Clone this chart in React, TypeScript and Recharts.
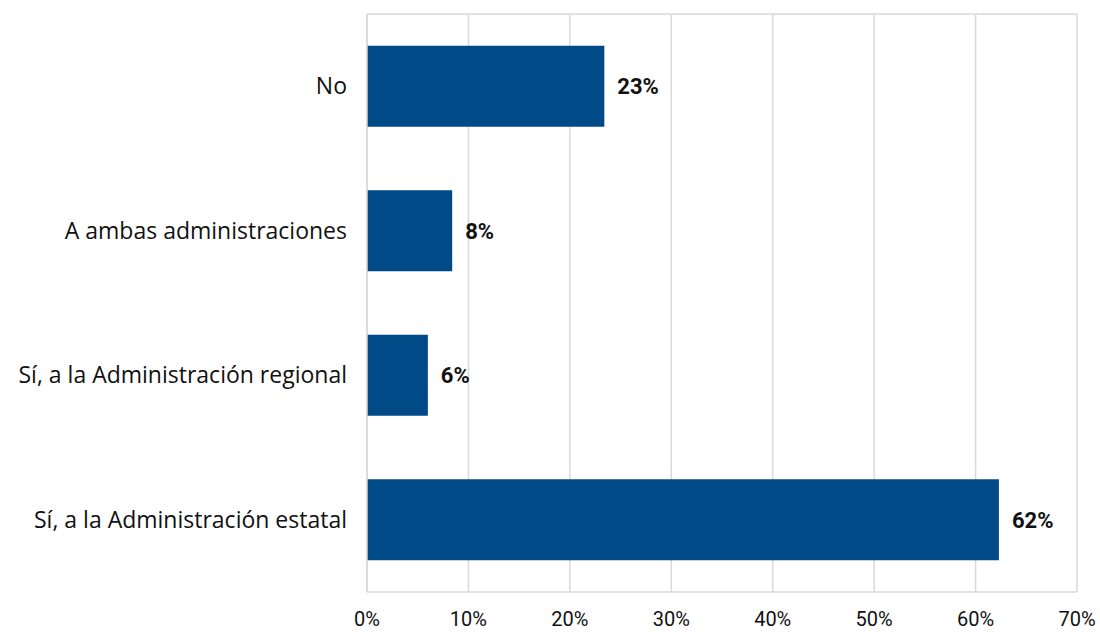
import { BarChart, Bar, XAxis, YAxis, CartesianGrid, LabelList } from 'recharts';

const categories = [
    'No',
    'A ambas administraciones',
    'Sí, a la Administración regional',
    'Sí, a la Administración estatal',
];
const shares = [23.4, 8.4, 6.0, 62.3];
const xTicks = [0, 10, 20, 30, 40, 50, 60, 70];

const data = categories.map((name, i) => ({ name, value: shares[i] }));

const FONT = 'Roboto, sans-serif';
const CAT_FONT = '"Open Sans", sans-serif';
const GRID = '#d9d9d9';
const BAR = '#004a87';

export default function App() {
    return (
        <div style={{ width: 1100, height: 633, background: '#fff', fontFamily: FONT }}>
            <style>{`body { margin: 0; }`}</style>
            <BarChart
                width={1100}
                height={633}
                data={data}
                layout="vertical"
                margin={{ top: 13, right: 23, bottom: 0, left: 0 }}
                barCategoryGap="22%"
            >
                <CartesianGrid horizontal={false} stroke={GRID} strokeWidth={1.5} xAxisId="bottom" />
                <XAxis
                    xAxisId="bottom"
                    type="number"
                    domain={[0, 70]}
                    ticks={xTicks}
                    tickFormatter={(v) => `${v}%`}
                    tick={{ fill: '#111', fontSize: 20, fontFamily: FONT }}
                    axisLine={{ stroke: GRID, strokeWidth: 1.5 }}
                    tickLine={false}
                    tickMargin={14}
                    height={41}
                />
                <XAxis
                    xAxisId="top"
                    orientation="top"
                    type="number"
                    domain={[0, 70]}
                    ticks={xTicks}
                    tick={false}
                    tickLine={false}
                    axisLine={{ stroke: GRID, strokeWidth: 1.5 }}
                    height={1}
                />
                <YAxis
                    type="category"
                    dataKey="name"
                    width={367}
                    tick={{ fill: '#111', fontSize: 23, fontFamily: CAT_FONT }}
                    axisLine={{ stroke: GRID, strokeWidth: 1.5 }}
                    tickLine={false}
                    tickMargin={14}
                />
                <Bar dataKey="value" xAxisId="bottom" fill={BAR} isAnimationActive={false}>
                    <LabelList
                        dataKey="value"
                        position="right"
                        offset={13}
                        formatter={(v: number) => `${Math.round(v)}%`}
                        style={{ fill: '#111', fontSize: 22, fontWeight: 'bold', fontFamily: FONT }}
                    />
                </Bar>
            </BarChart>
        </div>
    );
}
